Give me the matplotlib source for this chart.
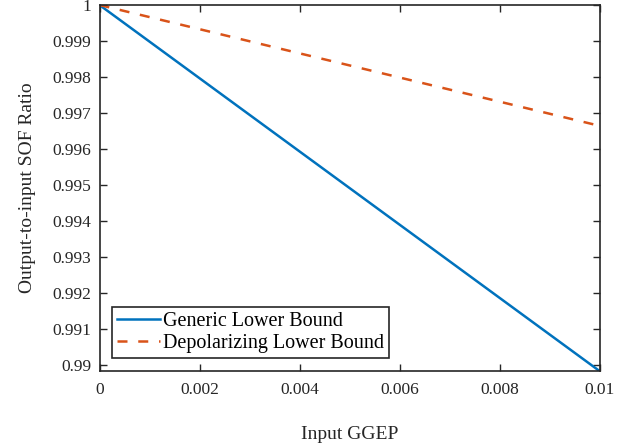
import matplotlib
matplotlib.use("Agg")
import matplotlib.pyplot as plt

x = [0.0, 0.01]
generic = [1.0, 0.98982]
depolarizing = [1.0, 0.99664]
xticks = [0, 0.002, 0.004, 0.006, 0.008, 0.01]
xticklabels = ["0", "0.002", "0.004", "0.006", "0.008", "0.01"]
yticks = [0.99, 0.991, 0.992, 0.993, 0.994, 0.995, 0.996, 0.997, 0.998, 0.999, 1.0]
yticklabels = ["0.99", "0.991", "0.992", "0.993", "0.994", "0.995", "0.996", "0.997", "0.998", "0.999", "1"]

plt.rcParams['font.family'] = ['Liberation Serif', 'DejaVu Serif']
plt.rcParams['font.size'] = 12.5

fig = plt.figure(figsize=(6.28, 4.47), dpi=100)
ax = fig.add_axes([99.5/628, 1 - 371/447, 500/628, 366/447])

ax.plot(x, generic, color='#0072BD', lw=1.8, label='Generic Lower Bound')
ax.plot(x, depolarizing, color='#D95319', lw=1.8, ls=(0, (4, 4.3)), label='Depolarizing Lower Bound')

ax.set_xlim(0, 0.01)
ax.set_ylim(0.98982, 1.0)
ax.set_xticks(xticks)
ax.set_xticklabels(xticklabels)
ax.set_yticks(yticks)
ax.set_yticklabels(yticklabels)
ax.tick_params(direction='in', top=True, right=True, length=5, width=1.0, colors='#262626', labelcolor='#262626')
ax.tick_params(axis='x', pad=8)
ax.tick_params(axis='y', pad=6)
for s in ax.spines.values():
    s.set_linewidth(1.2)
    s.set_color('#262626')

ax.set_xlabel('Input GGEP', labelpad=20, color='#262626', fontsize=14)
ax.set_ylabel('Output-to-input SOF Ratio', labelpad=12, color='#262626', fontsize=14)

leg = ax.legend(loc='lower left', bbox_to_anchor=(112/628, 1 - 358/447), bbox_transform=fig.transFigure,
                fancybox=False, edgecolor='#262626', framealpha=1, fontsize=14.5,
                handlelength=2.15, handletextpad=0.15, borderpad=0.25, labelspacing=0.12,
                borderaxespad=0)
leg.get_frame().set_linewidth(1.2)

fig.savefig('out.png', dpi=100)
